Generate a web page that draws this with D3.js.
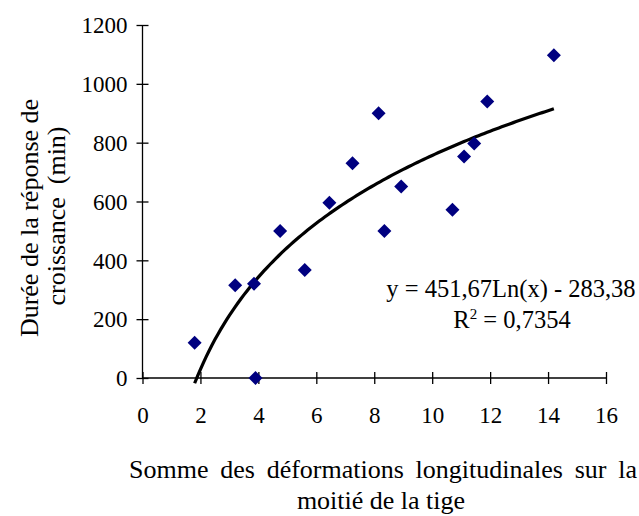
<!DOCTYPE html>
<html>
<head>
<meta charset="utf-8">
<script src="https://cdn.jsdelivr.net/npm/d3@7"></script>
<style>
  body { margin: 0; background: #fff; }
  svg { display: block; }
</style>
</head>
<body>
<div id="graph"></div>
<script>
// DATA
const xValues = [1.8, 3.2, 3.85, 3.9, 4.75, 5.6, 6.45, 7.25, 8.15, 8.35, 8.93, 10.7, 11.1, 11.45, 11.9, 14.2]
const yValues = [120, 315, 320, 0, 500, 367, 596, 730, 900, 500, 651, 572, 753, 797, 940, 1097]
const xTicks = [0, 2, 4, 6, 8, 10, 12, 14, 16]
const yTicks = [0, 200, 400, 600, 800, 1000, 1200]
// Trend line shown on the chart: y = 451,67 Ln(x) - 283,38
const trendA = 451.67
const trendB = -283.38
const trendFrom = 1.8
const trendTo = 14.2

const width = 639
const height = 516
const font = "'Liberation Serif', 'Times New Roman', serif"

const svg = d3.select('#graph').append("svg").attr("width", width).attr("height", height)

// Scales
const xScale = d3.scaleLinear().domain([0, 16]).range([142.5, 606])
const yScale = d3.scaleLinear().domain([0, 1200]).range([378, 25])

// Y axis, ticks crossing the line
const yAxis = svg.append("g").attr("transform", `translate(${xScale(0)},0)`)
  .call(d3.axisLeft(yScale).tickValues(yTicks).tickSize(6).tickPadding(9).tickFormat(d3.format("d")))
yAxis.select(".domain").attr("d", `M0,${yScale(0)}V${yScale(1200)}`).attr("stroke", "#000").attr("stroke-width", 1.3)
yAxis.selectAll(".tick line").attr("x1", 6).attr("stroke-width", 1.3)
yAxis.selectAll(".tick text").style("font-size", "23px").attr("dy", "0.34em")

// X axis, ticks crossing the line
const xAxis = svg.append("g").attr("transform", `translate(0,${yScale(0)})`)
  .call(d3.axisBottom(xScale).tickValues(xTicks).tickSize(6).tickFormat(d3.format("d")))
xAxis.select(".domain").attr("d", `M${xScale(0)},0H${xScale(16)}`).attr("stroke", "#000").attr("stroke-width", 1.3)
xAxis.selectAll(".tick line").attr("y1", -6).attr("stroke-width", 1.3)
xAxis.selectAll(".tick text").style("font-size", "23px").attr("y", 45).attr("dy", 0)

// Trend line from the displayed equation
const trendXs = d3.range(trendFrom, trendTo + 0.001, 0.1)
const line = d3.line()
  .x(d => xScale(d))
  .y(d => yScale(trendA * Math.log(d) + trendB))
svg.append("path")
  .attr("d", line(trendXs))
  .attr("fill", "none")
  .attr("stroke", "#000")
  .attr("stroke-width", 3.2)

// Diamond markers
const r = 7
svg.selectAll(".pt").data(xValues).enter().append("path")
  .attr("class", "pt")
  .attr("d", `M0,${-r}L${r},0L0,${r}L${-r},0Z`)
  .attr("transform", (d, i) => `translate(${xScale(d)},${yScale(yValues[i])})`)
  .attr("fill", "#000080")

// Equation text
svg.append("text").attr("x", 511).attr("y", 297).attr("text-anchor", "middle")
  .style("font-size", "24.5px").text("y = 451,67Ln(x) - 283,38")
const r2 = svg.append("text").attr("x", 512).attr("y", 328).attr("text-anchor", "middle")
  .style("font-size", "24.5px")
r2.append("tspan").text("R")
r2.append("tspan").attr("dy", -9).style("font-size", "15px").text("2")
r2.append("tspan").attr("dy", 9).text(" = 0,7354")

// Y axis label (two lines)
const yLabel = svg.append("text").attr("transform", "rotate(-90)").attr("text-anchor", "middle")
  .style("font-size", "26px")
yLabel.append("tspan").attr("x", -218).attr("y", 38).text("Durée de la réponse de")
yLabel.append("tspan").attr("x", -216).attr("y", 65).style("white-space", "pre").text("croissance  (min)")

// X axis label (two lines), first line justified to the reference width
const xLabel1 = svg.append("text").attr("x", 383).attr("y", 478).attr("text-anchor", "middle")
  .style("font-size", "26px")
  .text("Somme des déformations longitudinales sur la")
svg.append("text").attr("x", 381).attr("y", 509).attr("text-anchor", "middle")
  .style("font-size", "26px")
  .text("moitié de la tige")

// Serif everywhere
svg.selectAll("text").style("font-family", font).attr("fill", "#000")
svg.selectAll("g").attr("font-family", null)

const natural = xLabel1.node().getComputedTextLength()
xLabel1.style("word-spacing", Math.max(0, (508 - natural) / 5) + "px")
</script>
</body>
</html>
